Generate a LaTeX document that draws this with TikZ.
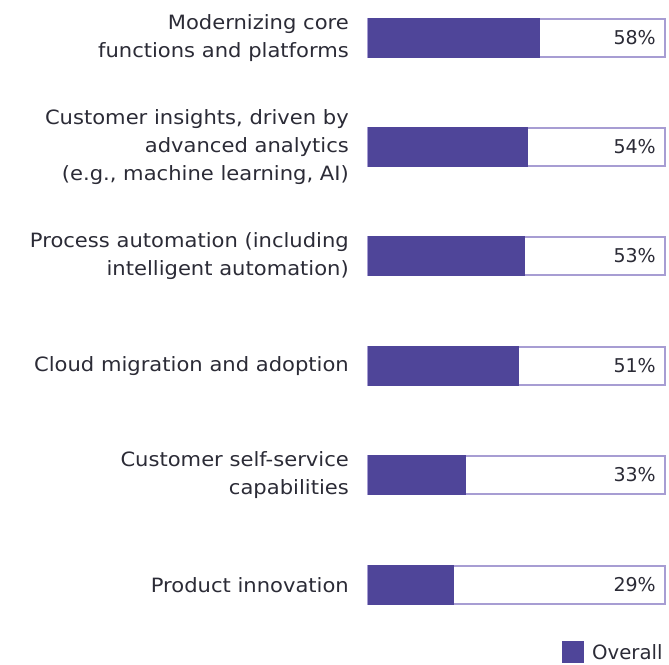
\documentclass[tikz,border=0pt]{standalone}
\usepackage{fontspec}
\setmainfont{DejaVu Sans}
\newfontfamily\labfont[FakeStretch=1.07]{DejaVu Sans}
\definecolor{barfill}{HTML}{4F4599}
\definecolor{barline}{HTML}{A79DD3}
\definecolor{txt}{HTML}{2B2B36}
\begin{document}
\begin{tikzpicture}[x=1pt,y=-1pt,
  lab/.style={anchor=east,align=right,text=txt,font=\labfont\fontsize{19.7}{28}\selectfont,inner sep=0pt},
  pct/.style={anchor=east,text=txt,font=\fontsize{19}{28}\selectfont,inner sep=0pt},
  frame/.style={draw=barline,line width=1.2pt,fill=white},
  fillbar/.style={fill=barfill}]
\useasboundingbox (0,0) rectangle (669,664);
\def\bx{368}\def\bw{297}\def\bh{38}
\foreach \i/\yc/\v/\t in {1/38/58/{Modernizing core\\functions and platforms},
  2/147/54/{Customer insights, driven by\\advanced analytics\\(e.g., machine learning, AI)},
  3/256/53/{Process automation (including\\intelligent automation)},
  4/366/51/{Cloud migration and adoption},
  5/475/33/{Customer self-service\\capabilities},
  6/585/29/{Product innovation}}{
  \pgfmathsetmacro\fx{\bx+2.97*\v}
  \draw[frame] (\bx,\yc-\bh/2) rectangle (\bx+\bw,\yc+\bh/2);
  \fill[fillbar] (\bx,\yc-\bh/2-0.6) rectangle (\fx,\yc+\bh/2+0.6);
  \node[lab] (l\i) at (349,\yc) {\t};
  \node[pct] (p\i) at (656,\yc) {\v\%};
}
\fill[barfill] (562,641) rectangle (584,663);
\node[anchor=west,text=txt,font=\fontsize{19.7}{28}\selectfont,inner sep=0pt] (leg) at (592,652) {Overall};
\end{tikzpicture}
\end{document}
